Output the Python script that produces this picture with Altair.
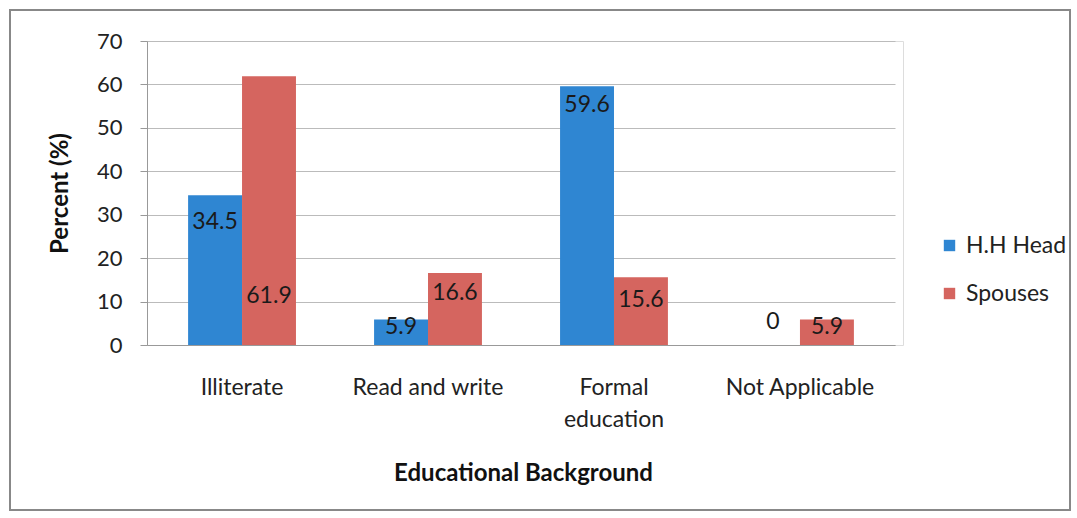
import altair as alt
import pandas as pd

categories = ["Illiterate", "Read and write", "Formal education", "Not Applicable"]
series = ["H.H Head", "Spouses"]
hh_head = [34.5, 5.9, 59.6, 0]
spouses = [61.9, 16.6, 15.6, 5.9]
# where each value label sits (in percent units)
hh_label_at = [28.3, 4.1, 55.3, 5.3]
sp_label_at = [11.3, 12.0, 10.4, 4.1]
colors = ["#2F86D2", "#D5655F"]

rows = []
for i, c in enumerate(categories):
    rows.append({"cat": c, "series": series[0], "value": hh_head[i], "lab": hh_label_at[i],
                 "txt": f"{hh_head[i]:g}"})
    rows.append({"cat": c, "series": series[1], "value": spouses[i], "lab": sp_label_at[i],
                 "txt": f"{spouses[i]:g}"})
df = pd.DataFrame(rows)

FONT = "Lato"

x_enc = alt.X("cat:N", sort=categories,
              scale=alt.Scale(paddingInner=0.42, paddingOuter=0.221, range=[0, 748]),
              axis=alt.Axis(title="Educational Background", labelAngle=0, ticks=False,
                            labelPadding=31, labelFontSize=23, labelColor="#222",
                            labelFont=FONT, labelLineHeight=32,
                            labelExpr="datum.label == 'Formal education' ? ['Formal', 'education'] : datum.label",
                            titleFont=FONT, titleFontSize=24, titleFontWeight="bold",
                            titleColor="#111", titleY=128, titleX=376,
                            titleBaseline="middle", titleAlign="center",
                            domainColor="#999", domainWidth=1.2))
xoff = alt.XOffset("series:N", sort=series)

bars = alt.Chart(df).mark_bar().encode(
    x=x_enc,
    xOffset=xoff,
    y=alt.Y("value:Q", scale=alt.Scale(domain=[0, 70]),
            axis=alt.Axis(title="Percent (%)", values=list(range(0, 71, 10)),
                          tickSize=7, tickColor="#999", labelPadding=18,
                          labelFontSize=22, labelFont=FONT, labelColor="#222",
                          titleFont=FONT, titleFontSize=24, titleFontWeight="bold",
                          titleColor="#111", titleX=-87, titleY=152, titleAngle=-90,
                          titleBaseline="middle", titleAlign="center",
                          domainColor="#999", gridColor="#BBBBBB", gridWidth=1)),
    color=alt.Color("series:N", sort=series,
                    scale=alt.Scale(domain=series, range=colors),
                    legend=alt.Legend(title=None, orient="none", legendX=791, legendY=193,
                                      symbolType="square", symbolSize=130,
                                      symbolStrokeWidth=0, labelFont=FONT,
                                      labelFontSize=23, labelColor="#222",
                                      rowPadding=24, labelOffset=5)),
)

labels = alt.Chart(df).mark_text(font=FONT, fontSize=23, color="#1a1a1a",
                                 baseline="middle").encode(
    x=alt.X("cat:N", sort=categories),
    xOffset=xoff,
    y=alt.Y("lab:Q"),
    text="txt:N",
)

frame = alt.Chart(df).mark_rect(fill=None, stroke="#888", strokeWidth=1.5).encode(
    x=alt.value(-137), x2=alt.value(923), y=alt.value(-31), y2=alt.value(469)
)

chart = alt.layer(frame, bars, labels).properties(
    width=756, height=304,
    autosize=alt.AutoSizeParams(type="none"),
    padding={"left": 147, "top": 41, "right": 174, "bottom": 173},
).configure_view(stroke=None).configure(background="white")

chart.save("out.html", embed_options={"renderer": "svg", "actions": False})
